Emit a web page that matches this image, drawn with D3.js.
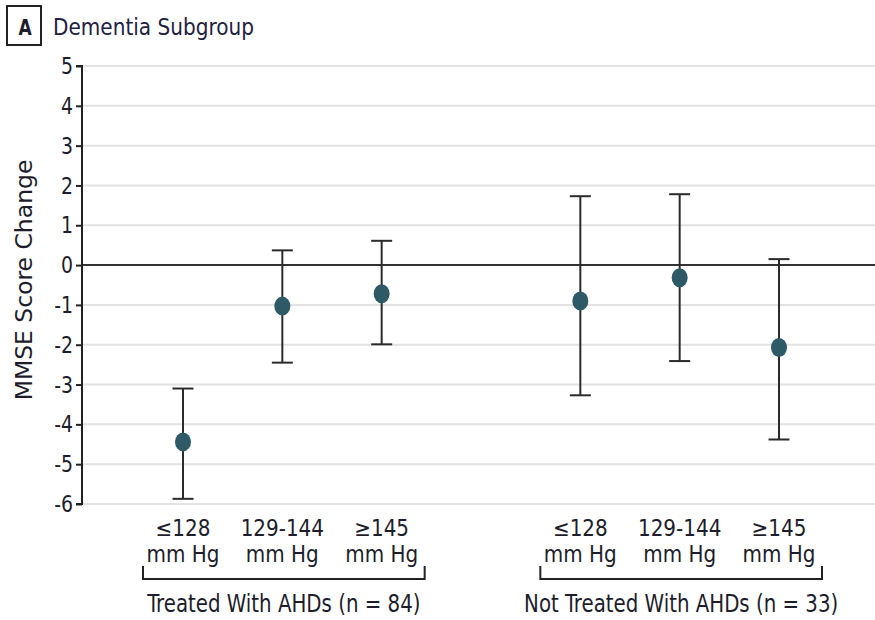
<!DOCTYPE html>
<html>
<head>
<meta charset="utf-8">
<script src="https://cdn.jsdelivr.net/npm/d3@7/dist/d3.min.js"></script>
<style>
  html, body { margin: 0; padding: 0; background: #fff; }
  svg { display: block; }
  text { font-family: "DejaVu Sans Condensed", "Liberation Sans Narrow", sans-serif; fill: #1d1d2b; }
</style>
</head>
<body>
<svg id="chart" width="875" height="620"></svg>
<script>
// MMSE score change by systolic blood pressure tertile, dementia subgroup
const slots = ["t1", "t2", "t3", "gap", "n1", "n2", "n3"];
const pointKeys = ["t1", "t2", "t3", "n1", "n2", "n3"];
const bpLine1 = ["≤128", "129-144", "≥145", "≤128", "129-144", "≥145"];
const bpLine2 = ["mm Hg", "mm Hg", "mm Hg", "mm Hg", "mm Hg", "mm Hg"];
const estimate = [-4.44, -1.03, -0.72, -0.90, -0.32, -2.07];
const lowerCI  = [-5.87, -2.45, -1.99, -3.27, -2.41, -4.38];
const upperCI  = [-3.10, 0.37, 0.61, 1.73, 1.78, 0.15];
const groupLabels = ["Treated With AHDs (n = 84)", "Not Treated With AHDs (n = 33)"];
const groupMembers = [["t1", "t2", "t3"], ["n1", "n2", "n3"]];
const yTicks = [5, 4, 3, 2, 1, 0, -1, -2, -3, -4, -5, -6];

const svg = d3.select("#chart");
const axisX = 82, rightEdge = 875;
const tall = 1.16; // narrow, tall lettering

const y = d3.scaleLinear().domain([-6, 5]).range([504, 66]);
const x = d3.scalePoint().domain(slots).range([183, 779]).padding(0);

// text placed at (px, py) with vertical stretch
function label(parent, px, py, str, size, anchor, sy) {
  return parent.append("text")
    .attr("transform", `translate(${px},${py}) scale(1,${sy})`)
    .attr("text-anchor", anchor).attr("font-size", size).text(str);
}

// panel heading
svg.append("rect").attr("x", 7).attr("y", 6).attr("width", 34).attr("height", 39)
  .attr("fill", "none").attr("stroke", "#222").attr("stroke-width", 2);
label(svg, 25, 35, "A", 19, "middle", 1.12).attr("font-weight", "bold");
label(svg, 53, 35, "Dementia Subgroup", 22.3, "start", 1.05).style("fill", "#1f2140");

// horizontal grid
svg.append("g").selectAll("line").data(yTicks.filter(v => v !== 0)).join("line")
  .attr("x1", axisX).attr("x2", rightEdge)
  .attr("y1", d => y(d)).attr("y2", d => y(d))
  .attr("stroke", "#e2e2e2").attr("stroke-width", 2);

// zero reference line
svg.append("line").attr("x1", axisX).attr("x2", rightEdge)
  .attr("y1", y(0)).attr("y2", y(0))
  .attr("stroke", "#333").attr("stroke-width", 2);

// y axis
const yAxis = d3.axisLeft(y).tickValues(yTicks).tickSize(6).tickPadding(3)
  .tickFormat(d => d < 0 ? "-" + Math.abs(d) : String(d));
const gy = svg.append("g").attr("transform", `translate(${axisX},0)`).call(yAxis);
gy.select(".domain").attr("stroke", "#222").attr("stroke-width", 2).attr("d", `M-6,${y(5)}H0V${y(-6)}H-6`);
gy.selectAll(".tick line").attr("stroke", "#222").attr("stroke-width", 2);
gy.selectAll(".tick text").attr("font-size", 21).style("font-family", null).style("fill", "#1d1d2b")
  .attr("dy", null).attr("y", 7).attr("transform", "scale(1,1.08)");

svg.append("text")
  .attr("transform", `translate(32,${(y(5) + y(-6)) / 2 - 5}) rotate(-90) scale(${tall},1)`)
  .attr("text-anchor", "middle").attr("font-size", 22.5).text("MMSE Score Change");

// confidence intervals
const rows = pointKeys.map((k, i) => ({ k, est: estimate[i], lo: lowerCI[i], hi: upperCI[i], l1: bpLine1[i], l2: bpLine2[i] }));
const capHalf = 10.5;
const bars = svg.append("g").attr("stroke", "#2b2b2b").attr("stroke-width", 2).attr("fill", "none");
rows.forEach(r => {
  const cx = x(r.k);
  bars.append("line").attr("x1", cx).attr("x2", cx).attr("y1", y(r.hi)).attr("y2", y(r.lo));
  bars.append("line").attr("x1", cx - capHalf).attr("x2", cx + capHalf).attr("y1", y(r.hi)).attr("y2", y(r.hi));
  bars.append("line").attr("x1", cx - capHalf).attr("x2", cx + capHalf).attr("y1", y(r.lo)).attr("y2", y(r.lo));
});

// point estimates
svg.append("g").selectAll("ellipse").data(rows).join("ellipse")
  .attr("cx", d => x(d.k)).attr("cy", d => y(d.est))
  .attr("rx", 8).attr("ry", 9.5).attr("fill", "#2e5967");

// two-line category labels
const cat = svg.append("g").attr("text-anchor", "middle").attr("font-size", 22.2);
rows.forEach(r => {
  cat.append("text").attr("x", x(r.k)).attr("y", 536).text(r.l1);
  cat.append("text").attr("x", x(r.k)).attr("y", 562).text(r.l2);
});

// group brackets
groupMembers.forEach((members, gi) => {
  const x0 = x(members[0]) - 40, x1 = x(members[members.length - 1]) + 43;
  svg.append("path").attr("d", `M${x0},566V579H${x1}V566`)
    .attr("fill", "none").attr("stroke", "#222").attr("stroke-width", 2);
  label(svg, (x0 + x1) / 2, 612, groupLabels[gi], 22, "middle", tall);
});
</script>
</body>
</html>
